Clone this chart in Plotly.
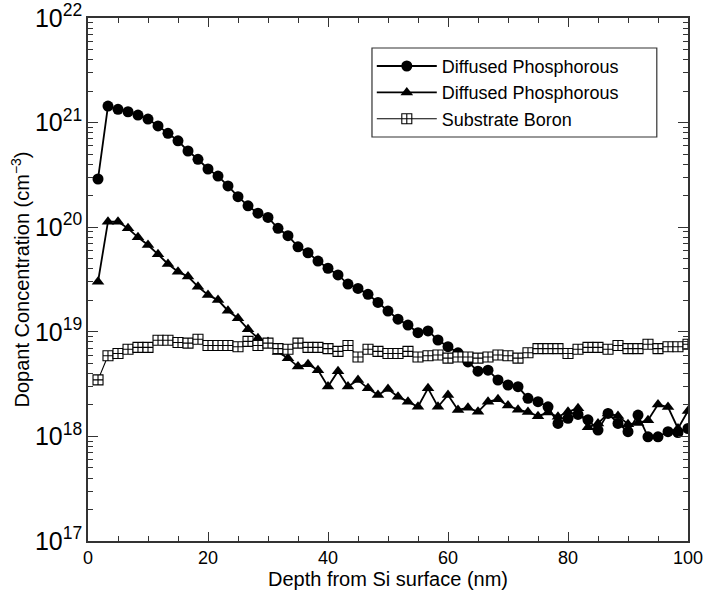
import plotly.graph_objects as go

depth_nm = [1.67, 3.33, 5.0, 6.67, 8.33, 10.0, 11.67, 13.33, 15.0, 16.67,
            18.33, 20.0, 21.67, 23.33, 25.0, 26.67, 28.33, 30.0, 31.67, 33.33,
            35.0, 36.67, 38.33, 40.0, 41.67, 43.33, 45.0, 46.67, 48.33, 50.0,
            51.67, 53.33, 55.0, 56.67, 58.33, 60.0, 61.67, 63.33, 65.0, 66.67,
            68.33, 70.0, 71.67, 73.33, 75.0, 76.67, 78.33, 80.0, 81.67, 83.33,
            85.0, 86.67, 88.33, 90.0, 91.67, 93.33, 95.0, 96.67, 98.33, 100.0]

phos_circle = [2.89e20, 1.44e21, 1.34e21, 1.27e21, 1.18e21, 1.08e21, 9.3e20, 7.9e20, 6.7e20, 5.35e20,
               4.46e20, 3.6e20, 3.08e20, 2.48e20, 1.96e20, 1.6e20, 1.36e20, 1.24e20, 9.75e19, 8.3e19,
               6.5e19, 5.7e19, 4.75e19, 4.05e19, 3.5e19, 2.86e19, 2.6e19, 2.28e19, 1.91e19, 1.58e19,
               1.32e19, 1.16e19, 9.8e18, 1.02e19, 8.35e18, 7.2e18, 6.3e18, 5.15e18, 4.2e18, 4.3e18,
               3.46e18, 3.1e18, 2.99e18, 2.31e18, 2.15e18, 1.92e18, 1.33e18, 1.49e18, 1.62e18, 1.44e18,
               1.15e18, 1.66e18, 1.33e18, 1.11e18, 1.6e18, 9.9e17, 9.9e17, 1.11e18, 1.09e18, 1.19e18]

phos_triangle = [3.01e19, 1.13e20, 1.13e20, 9.75e19, 8.0e19, 6.76e19, 5.5e19, 4.45e19, 3.76e19, 3.37e19,
                 2.7e19, 2.25e19, 2.01e19, 1.59e19, 1.35e19, 1.06e19, 8.7e18, 8.0e18, 6.4e18, 5.6e18,
                 4.65e18, 4.9e18, 4.3e18, 3.0e18, 4.2e18, 3.0e18, 3.46e18, 2.88e18, 2.49e18, 2.84e18,
                 2.4e18, 2.15e18, 1.92e18, 2.88e18, 1.92e18, 2.49e18, 1.79e18, 1.88e18, 1.72e18, 2.15e18,
                 2.26e18, 1.97e18, 1.8e18, 1.71e18, 1.56e18, 1.69e18, 1.54e18, 1.72e18, 1.86e18, 1.22e18,
                 1.33e18, 1.66e18, 1.57e18, 1.31e18, 1.34e18, 1.43e18, 2.02e18, 1.91e18, 1.19e18, 1.75e18]

boron_square = [3.47e18, 5.9e18, 6.2e18, 6.8e18, 7.1e18, 7.1e18, 8.3e18, 8.3e18, 7.9e18, 7.8e18,
                8.5e18, 7.4e18, 7.4e18, 7.4e18, 7.2e18, 8.1e18, 7.4e18, 7.8e18, 6.9e18, 6.8e18,
                7.8e18, 7.1e18, 7.1e18, 6.9e18, 6.5e18, 7.4e18, 5.75e18, 6.8e18, 6.5e18, 6.2e18,
                6.2e18, 6.5e18, 5.75e18, 5.9e18, 6.0e18, 5.6e18, 5.75e18, 5.75e18, 5.6e18, 5.75e18,
                6.0e18, 5.9e18, 5.6e18, 6.3e18, 6.9e18, 6.9e18, 6.9e18, 6.2e18, 6.8e18, 7.1e18,
                7.1e18, 6.8e18, 7.4e18, 6.9e18, 6.9e18, 7.6e18, 6.9e18, 7.2e18, 7.2e18, 7.6e18]

series_names = ["Diffused Phosphorous", "Diffused Phosphorous", "Substrate Boron"]

FONT = "Liberation Sans, Arial, Helvetica, sans-serif"

fig = go.Figure()
fig.add_trace(go.Scatter(
    x=depth_nm, y=phos_circle, name=series_names[0], mode="lines+markers",
    line=dict(color="black", width=1.8),
    marker=dict(symbol="circle", size=11, color="black"),
))
fig.add_trace(go.Scatter(
    x=depth_nm, y=phos_triangle, name=series_names[1], mode="lines+markers",
    line=dict(color="black", width=1.8),
    marker=dict(symbol="triangle-up", size=11, color="black"),
))
fig.add_trace(go.Scatter(
    x=depth_nm, y=boron_square, name=series_names[2], mode="lines+markers",
    line=dict(color="black", width=1.1),
    marker=dict(symbol="square-cross", size=10, color="white",
                line=dict(color="black", width=1.1)),
))

axis_common = dict(
    showline=True, linecolor="#333", linewidth=1.5, mirror="allticks",
    ticks="inside", tickcolor="#333", tickwidth=1.2,
    showgrid=False, zeroline=False, automargin=False,
)

fig.update_xaxes(
    range=[0, 100], dtick=20, tick0=0, ticklen=9,
    tickfont=dict(family=FONT, size=18, color="black"),
    minor=dict(dtick=5, ticks="inside", ticklen=5, tickcolor="#333", showgrid=False),
    title=dict(text="Depth from Si surface (nm)", font=dict(family=FONT, size=20, color="black"), standoff=4),
    **axis_common,
)
fig.update_yaxes(
    type="log", range=[17, 22], dtick=1, exponentformat="power", ticklen=10,
    tickfont=dict(family=FONT, size=20, color="black"),
    minor=dict(dtick="D1", ticks="inside", ticklen=5, tickcolor="#333", showgrid=False),
    title=dict(text="Dopant Concentration (cm<sup>−3</sup>)", font=dict(family=FONT, size=20, color="black"), standoff=0),
    **axis_common,
)

# legend frame (paper coordinates of the plot area)
fig.add_shape(
    type="rect", xref="paper", yref="paper",
    x0=0.4733, x1=0.948, y0=0.7725, y1=0.9426,
    line=dict(color="#333", width=1.2), fillcolor="white", layer="above",
)

fig.update_layout(
    width=706, height=593,
    margin=dict(l=88, r=18, t=18, b=52),
    paper_bgcolor="white", plot_bgcolor="white",
    font=dict(family=FONT, color="black"),
    legend=dict(
        x=0.473, y=0.943, xanchor="left", yanchor="top",
        bgcolor="rgba(0,0,0,0)", borderwidth=0,
        font=dict(family=FONT, size=18, color="black"),
        itemwidth=60,
    ),
)

fig.write_html("out.html", config={"displayModeBar": False},
               post_script="document.body.style.margin='0';")
